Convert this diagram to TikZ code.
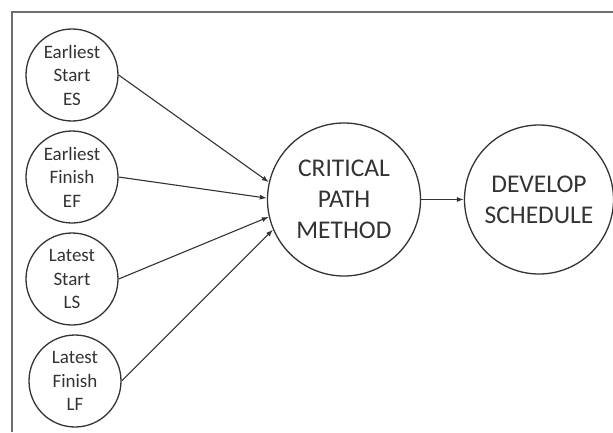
\documentclass[tikz,border=0pt]{standalone}
\usepackage{fontspec}
\setmainfont{Carlito}
\usetikzlibrary{arrows.meta}
\definecolor{ink}{HTML}{333333}
\definecolor{framec}{HTML}{6E6E6E}
\begin{document}
\begin{tikzpicture}[x=1pt,y=-1pt,
  small/.style={circle,draw=ink,line width=1.3pt,minimum size=92pt,inner sep=0pt,align=center,
    font=\fontsize{19}{23.5}\selectfont,text=ink},
  big/.style={circle,draw=ink,line width=1.3pt,minimum size=153pt,inner sep=0pt,align=center,
    font=\fontsize{25.5}{31}\selectfont,text=ink},
  conn/.style={draw=ink,line width=1.1pt,-{Latex[length=7pt,width=5pt]}}]
\useasboundingbox (0,0) rectangle (613,432);
\draw[framec,line width=2pt] (12,432) -- (12,12) -- (613,12);
\node[small] (es) at (72,75) {Earliest\\Start\\ES};
\node[small] (ef) at (72,177) {Earliest\\Finish\\EF};
\node[small] (ls) at (72,279) {Latest\\Start\\LS};
\node[small] (lf) at (75,381) {Latest\\Finish\\LF};
\node[big] (cpm) at (344,199.5) {CRITICAL\\PATH\\METHOD};
\node[big,minimum size=149pt] (ds) at (539,199.5) {DEVELOP\\SCHEDULE};
\draw[conn] (es.east) -- (cpm.167);
\draw[conn] (ef.east) -- (cpm.179);
\draw[conn] (ls.east) -- (cpm.193);
\draw[conn] (lf.east) -- (cpm.203.5);
\draw[conn] (cpm) -- (ds);
\end{tikzpicture}
\end{document}
